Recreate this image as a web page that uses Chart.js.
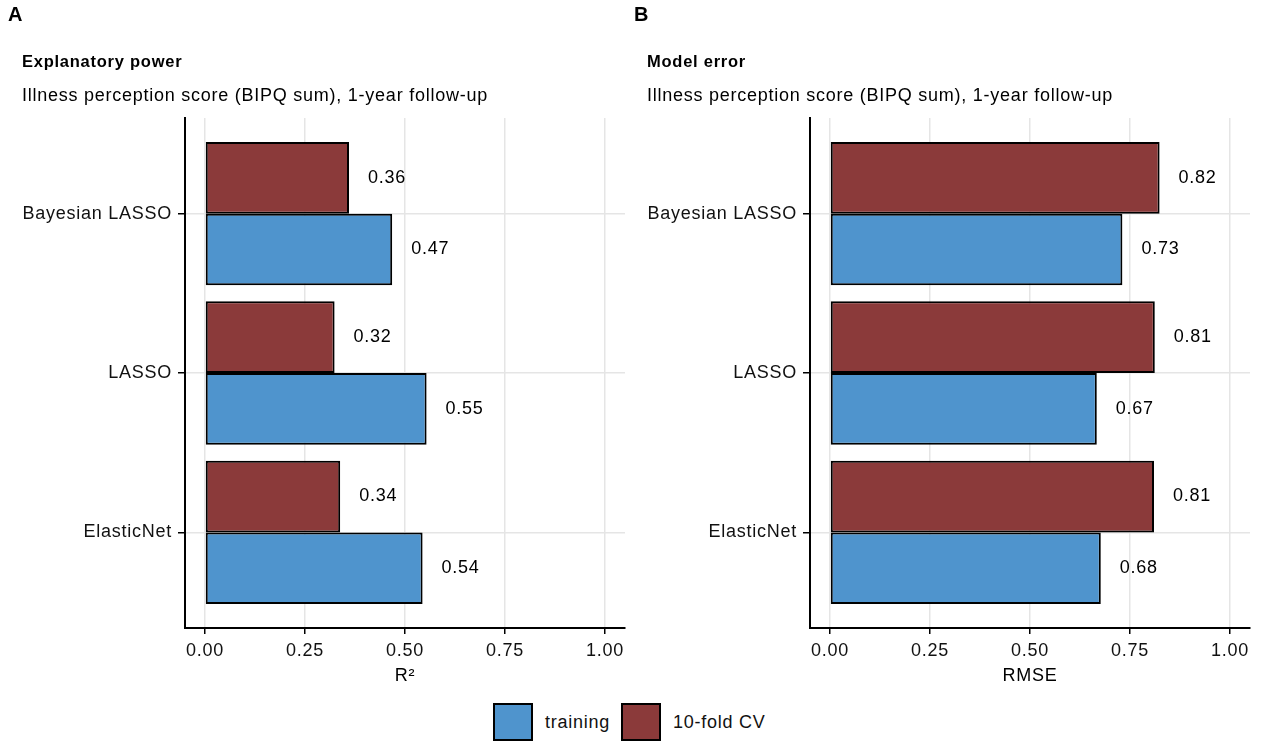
<!DOCTYPE html>
<html>
<head>
<meta charset="utf-8">
<script src="https://cdn.jsdelivr.net/npm/chart.js@4"></script>
<style>
  body { margin: 0; background: #fff; overflow: hidden; font-family: "Liberation Sans", Arial, sans-serif; color: #000; }
  .wrap { position: relative; width: 1262px; height: 742px; }
  .panel { position: absolute; top: 0; width: 640px; height: 690px; }
  .tag { position: absolute; top: 3px; font-weight: bold; font-size: 20px; }
  .legend { position: absolute; top: 703px; left: 493px; display: flex; align-items: center; font-size: 18px; letter-spacing: 0.75px; color: #111; }
  .key { width: 36px; height: 34px; border: 2px solid #000; display: inline-block; }
  .legend span.txt { margin: 0 11px 0 12px; }
</style>
</head>
<body>
<div class="wrap">
  <div class="panel" style="left:0"><canvas id="chartA"></canvas></div>
  <div class="panel" style="left:625px"><canvas id="chartB"></canvas></div>
  <div class="tag" style="left:8px">A</div>
  <div class="tag" style="left:634px">B</div>
  <div class="legend">
    <span class="key" style="background:#4F94CD"></span><span class="txt">training</span>
    <span class="key" style="background:#8B3A3A"></span><span class="txt">10-fold CV</span>
  </div>
</div>
<script>
// models from bottom to top
const models = ['ElasticNet', 'LASSO', 'Bayesian LASSO']
const xTicks = [0, 0.25, 0.5, 0.75, 1]

const r2Training = [0.544, 0.554, 0.468]
const r2CV = [0.338, 0.324, 0.36]
const rmseTraining = [0.677, 0.667, 0.731]
const rmseCV = [0.81, 0.812, 0.824]

const blue = '#4F94CD'
const red = '#8B3A3A'
const font = { family: '"Liberation Sans", Arial, sans-serif', size: 18 }

// the original text is set a bit wider than plain Arial
const spacing = {
    id: 'spacing',
    beforeLayout(chart) { chart.ctx.letterSpacing = '0.75px' },
    beforeDraw(chart) { chart.ctx.letterSpacing = '0.75px' }
}

// value labels to the right of each bar
const barLabels = {
    id: 'barLabels',
    afterDatasetsDraw(chart) {
        const ctx = chart.ctx
        ctx.save()
        ctx.font = '18px "Liberation Sans", Arial, sans-serif'
        ctx.fillStyle = '#000'
        ctx.textAlign = 'left'
        ctx.textBaseline = 'middle'
        chart.data.datasets.forEach((ds, i) => {
            chart.getDatasetMeta(i).data.forEach((bar, j) => {
                ctx.fillText(ds.data[j].x.toFixed(2), bar.x + 19, bar.y)
            })
        })
        ctx.restore()
    }
}

function makePanel(id, title, axisTitle, training, cv) {
    const pts = vals => vals.map((v, i) => ({ x: v, y: i + 1 }))
    const bar = { borderColor: '#000', borderWidth: 2, borderSkipped: false }
    return new Chart(document.getElementById(id), {
        type: 'bar',
        data: {
            datasets: [
                { label: '10-fold CV', data: pts(cv), backgroundColor: red, ...bar },
                { label: 'training', data: pts(training), backgroundColor: blue, ...bar }
            ]
        },
        plugins: [spacing, barLabels],
        options: {
            indexAxis: 'y',
            responsive: false,
            animation: false,
            categoryPercentage: 0.9,
            barPercentage: 1,
            layout: { padding: { left: 22, right: 15, top: 0, bottom: 0 } },
            plugins: {
                legend: { display: false },
                tooltip: { enabled: false },
                title: {
                    display: true, text: title, align: 'start', color: '#000',
                    font: { family: font.family, size: 16.5, weight: 'bold' }, padding: { top: 52.7, bottom: 5 }
                },
                subtitle: {
                    display: true, text: 'Illness perception score (BIPQ sum), 1-year follow-up',
                    align: 'start', color: '#000', font: font, padding: { top: 7.3, bottom: 11.6 }
                }
            },
            scales: {
                x: {
                    type: 'linear', min: -0.05, max: 1.05,
                    afterBuildTicks: s => { s.ticks = xTicks.map(v => ({ value: v })) },
                    afterFit: s => { s.height = 62 },
                    ticks: { color: '#111', font: font, padding: 5.8, callback: v => v.toFixed(2) },
                    grid: { color: '#e5e5e5', lineWidth: 1.5, tickColor: '#000', tickWidth: 1.5, tickLength: 6 },
                    border: { display: true, color: '#000', width: 2 },
                    title: { display: true, text: axisTitle, color: '#000', font: font, padding: { top: 0, bottom: 3.2 } }
                },
                y: {
                    type: 'linear', min: 0.4, max: 3.6,
                    offset: false,
                    afterBuildTicks: s => { s.ticks = models.map((m, i) => ({ value: i + 1 })) },
                    afterFit: s => { s.width = 163 },
                    ticks: { color: '#111', font: font, padding: 6, callback: v => models[v - 1] },
                    grid: { offset: false, color: '#e5e5e5', lineWidth: 1.5, tickColor: '#000', tickWidth: 1.5, tickLength: 7 },
                    border: { display: true, color: '#000', width: 2 }
                }
            }
        }
    })
}

document.getElementById('chartA').width = 640
document.getElementById('chartA').height = 690
document.getElementById('chartB').width = 640
document.getElementById('chartB').height = 690

makePanel('chartA', 'Explanatory power', 'R²', r2Training, r2CV)
makePanel('chartB', 'Model error', 'RMSE', rmseTraining, rmseCV)
</script>
</body>
</html>
